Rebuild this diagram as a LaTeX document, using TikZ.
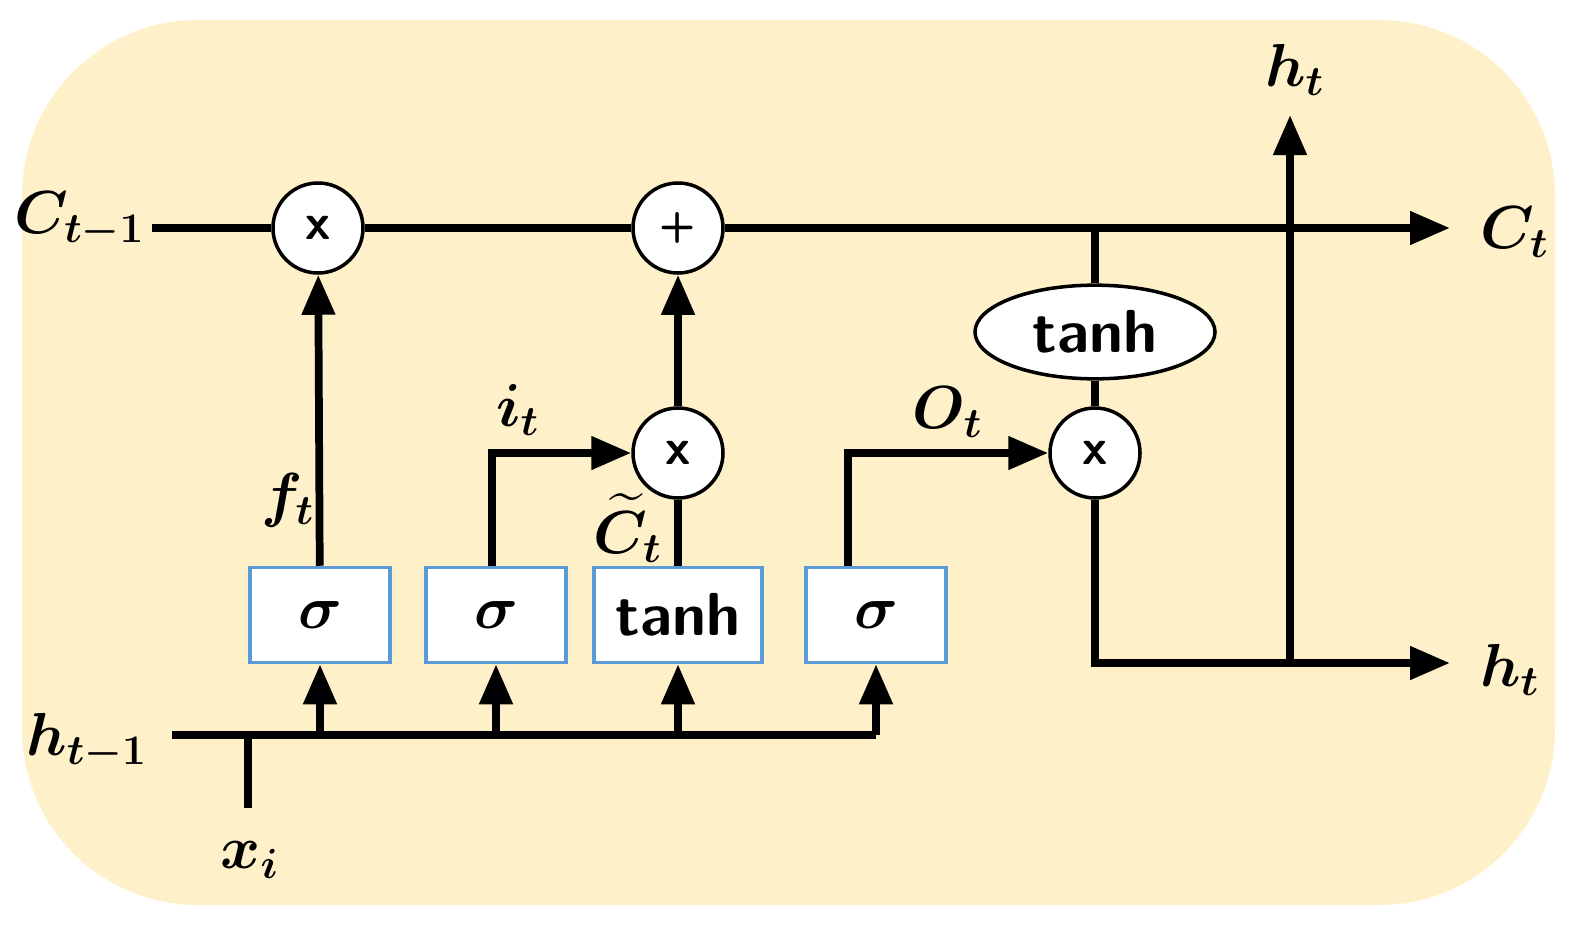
\documentclass[tikz,border=0pt]{standalone}
\usepackage{amsmath,amssymb,bm}
\usetikzlibrary{arrows.meta,calc,positioning,shapes}
\definecolor{cellbg}{RGB}{254,240,201}
\definecolor{gateblue}{RGB}{91,155,213}

\begin{document}
\begin{tikzpicture}[
    flow/.style={line width=2.2pt},
    arr/.style={flow, -{Triangle[length=4mm,width=3.2mm]}},
    op/.style={circle, draw, line width=1pt, fill=white, minimum size=9mm, inner sep=0pt, font=\Large\sffamily\bfseries},
    gate/.style={draw=gateblue, line width=1pt, fill=white, minimum width=14mm, minimum height=9.5mm, font=\LARGE\sffamily\bfseries},
    lbl/.style={font=\LARGE}
]

% Background
\fill[cellbg, rounded corners=50pt] (0.22,0.35) rectangle (15.55,9.2);
\useasboundingbox (0,0) rectangle (15.94,9.4);

% === Operators ===
\node[op] (fx) at (3.18,7.12) {x};
\node[op, font=\large\sffamily\bfseries] (add) at (6.78,7.12) {+};
\node[op] (ix) at (6.78,4.87) {x};
\node[op] (ox) at (10.95,4.87) {x};
\node[ellipse, draw, line width=1pt, fill=white, minimum width=24mm, minimum height=9mm, font=\LARGE\sffamily\bfseries] (th) at (10.95,6.08) {tanh};

% === Gates ===
\node[gate] (fg) at (3.20,3.25) {$\bm{\sigma}$};
\node[gate] (ig) at (4.96,3.25) {$\bm{\sigma}$};
\node[gate, minimum width=16.8mm] (cg) at (6.78,3.25) {tanh};
\node[gate] (og) at (8.76,3.25) {$\bm{\sigma}$};

% === Coordinates ===
\coordinate (cin) at (1.52,7.12);
\coordinate (cout) at (14.5,7.12);
\coordinate (cj) at (10.95,7.12);
\coordinate (hin) at (1.72,2.05);
\coordinate (hend) at (8.76,2.05);
\coordinate (xin) at (2.48,1.32);
\coordinate (hout) at (14.5,2.77);
\coordinate (hsplit) at (12.9,2.77);
\coordinate (htop) at (12.9,8.25);

% Cell state
\draw[flow] (cin) -- (fx);
\draw[flow] (fx) -- (add);
\draw[arr] (add) -- (cout);
\draw[flow] (cj) -- (th);
\draw[flow] (th) -- (ox);

% Output
\draw[arr] (ox.south) |- (hout);
\draw[arr] (hsplit) -- (htop);

% Input bus
\draw[flow] (hin) -- (hend);
\draw[flow] (xin) -- (xin |- hin);
\foreach \g in {fg,ig,cg,og}
    \draw[arr] (\g.south |- hin) -- (\g.south);

% Gate outputs
\draw[arr] (fg) -- (fx);
\draw[arr] ([xshift=-0.4mm]ig.north) |- (ix.west);
\draw[flow] (cg) -- (ix);
\draw[arr] (ix) -- (add);
\draw[arr] ([xshift=-2.8mm]og.north) |- (ox.west);

% Labels
\node[lbl] (lc0) at (0.8,7.2) {$\bm{C_{t-1}}$};
\node[lbl] (lc1) at (15.15,7.08) {$\bm{C_t}$};
\node[lbl] (lh0) at (0.87,1.98) {$\bm{h_{t-1}}$};
\node[lbl] (lh1) at (15.1,2.7) {$\bm{h_t}$};
\node[lbl] (lh2) at (12.95,8.7) {$\bm{h_t}$};
\node[lbl] (lx) at (2.5,0.8) {$\bm{x_i}$};
\node[lbl] (lf) at (2.88,4.4) {$\bm{f_t}$};
\node[lbl] (li) at (5.18,5.3) {$\bm{i_t}$};
\node[lbl] (lct) at (6.28,4.12) {$\bm{\widetilde{C}_t}$};
\node[lbl] (lo) at (9.48,5.28) {$\bm{O_t}$};

\end{tikzpicture}
\end{document}
